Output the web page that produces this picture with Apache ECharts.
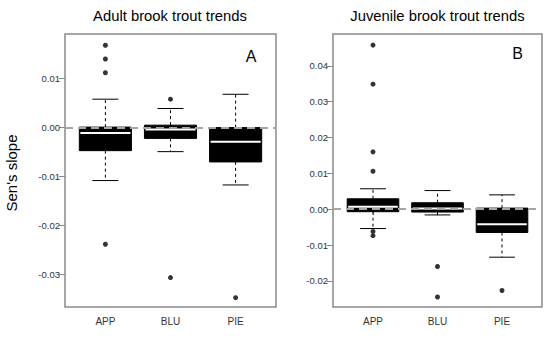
<!DOCTYPE html>
<html>
<head>
<meta charset="utf-8">
<script src="https://cdn.jsdelivr.net/npm/echarts@6/dist/echarts.min.js"></script>
<style>html,body{margin:0;padding:0;background:#fff}#c{width:550px;height:340px}</style>
</head>
<body>
<div id="c"></div>
<script>
const categories = ['APP', 'BLU', 'PIE'];
const catPos = [1, 2, 3];

// Adult brook trout trends (panel A)
const adultLow  = [-0.0108, -0.0049, -0.0117];
const adultQ1   = [-0.0047, -0.0022, -0.0070];
const adultMed  = [-0.0011, -0.0004, -0.0029];
const adultQ3   = [0.0001, 0.0005, 0.0000];
const adultHigh = [0.0058, 0.0039, 0.0068];
const adultOutAPP = [0.0168, 0.0140, 0.0112, -0.0238];
const adultOutBLU = [0.0058, -0.0306];
const adultOutPIE = [-0.0347];

// Juvenile brook trout trends (panel B)
const juvLow  = [-0.0054, -0.0016, -0.0134];
const juvQ1   = [-0.0007, -0.0008, -0.0065];
const juvMed  = [0.0007, 0.0002, -0.0042];
const juvQ3   = [0.0029, 0.0018, 0.0003];
const juvHigh = [0.0057, 0.0052, 0.0040];
const juvOutAPP = [0.0458, 0.0349, 0.0160, 0.0106, -0.0062, -0.0074];
const juvOutBLU = [-0.0160, -0.0245];
const juvOutPIE = [-0.0227];

const adultTicks = [-0.03, -0.02, -0.01, 0, 0.01];
const juvTicks = [-0.02, -0.01, 0, 0.01, 0.02, 0.03, 0.04];

function boxRows(low, q1, med, q3, high) {
  return catPos.map((p, i) => [p, low[i], q1[i], med[i], q3[i], high[i]]);
}
function outRows(lists) {
  const rows = [];
  lists.forEach((l, i) => l.forEach(v => rows.push([catPos[i], v])));
  return rows;
}

function renderBox(params, api) {
  const x = api.value(0);
  const low = api.coord([x, api.value(1)]);
  const q1 = api.coord([x, api.value(2)]);
  const med = api.coord([x, api.value(3)]);
  const q3 = api.coord([x, api.value(4)]);
  const high = api.coord([x, api.value(5)]);
  const bw = api.size([0.8, 0])[0];
  const cw = bw / 2;
  const cx = q1[0];
  const dash = {stroke: '#000', lineWidth: 1, lineDash: [3, 3]};
  const solid = {stroke: '#000', lineWidth: 1};
  return {
    type: 'group',
    children: [
      {type: 'line', shape: {x1: cx, y1: q3[1], x2: cx, y2: high[1]}, style: dash},
      {type: 'line', shape: {x1: cx, y1: q1[1], x2: cx, y2: low[1]}, style: dash},
      {type: 'line', shape: {x1: cx - cw / 2, y1: high[1], x2: cx + cw / 2, y2: high[1]}, style: solid},
      {type: 'line', shape: {x1: cx - cw / 2, y1: low[1], x2: cx + cw / 2, y2: low[1]}, style: solid},
      {type: 'rect', shape: {x: cx - bw / 2, y: q3[1], width: bw, height: q1[1] - q3[1]}, style: {fill: '#000', stroke: '#000', lineWidth: 1}},
      {type: 'line', shape: {x1: cx - bw / 2 + 1, y1: med[1], x2: cx + bw / 2 - 1, y2: med[1]}, style: {stroke: '#fff', lineWidth: 2}}
    ]
  };
}

const frameColor = '#8a8a8a';
const labelColor = '#333';

function xAxisDef(gi) {
  return {
    type: 'value', gridIndex: gi, min: 0.38, max: 3.62,
    axisLine: {show: false},
    splitLine: {show: false},
    axisTick: {show: true, customValues: catPos, length: 6, lineStyle: {color: frameColor, width: 1}},
    axisLabel: {show: true, customValues: catPos, margin: 9, color: labelColor, fontSize: 10, fontFamily: 'Liberation Sans, Arial, sans-serif',
      formatter: v => categories[Math.round(v) - 1]}
  };
}
function yAxisDef(gi, min, max, ticks) {
  return {
    type: 'value', gridIndex: gi, min: min, max: max,
    axisLine: {show: false},
    splitLine: {show: false},
    axisTick: {show: true, customValues: ticks, length: 6, lineStyle: {color: frameColor, width: 1}},
    axisLabel: {show: true, customValues: ticks, margin: 5, color: labelColor, fontSize: 9.5, fontFamily: 'Liberation Sans, Arial, sans-serif',
      formatter: v => (Math.abs(v) < 1e-9 ? 0 : v).toFixed(2)}
  };
}
function zeroLine(gi) {
  return {
    type: 'scatter', xAxisIndex: gi, yAxisIndex: gi, data: [], z: 10, silent: true,
    markLine: {silent: true, symbol: 'none', label: {show: false},
      lineStyle: {color: '#a6a6a6', width: 2, type: [8, 5]},
      data: [{yAxis: 0}]}
  };
}

const chart = echarts.init(document.getElementById('c'), null, {renderer: 'svg'});
chart.setOption({
  animation: false,
  backgroundColor: '#fff',
  grid: [
    {left: 65, top: 34, width: 211, height: 273, show: true, borderColor: frameColor, borderWidth: 1.5, backgroundColor: 'transparent'},
    {left: 333, top: 34, width: 209, height: 273, show: true, borderColor: frameColor, borderWidth: 1.5, backgroundColor: 'transparent'}
  ],
  xAxis: [xAxisDef(0), xAxisDef(1)],
  yAxis: [yAxisDef(0, -0.0366, 0.0191, adultTicks), yAxisDef(1, -0.0273, 0.0489, juvTicks)],
  graphic: [
    {type: 'text', x: 170, y: 16, style: {text: 'Adult brook trout trends', font: '14.8px "Liberation Sans", Arial, sans-serif', fill: '#000', textAlign: 'center', textVerticalAlign: 'middle'}},
    {type: 'text', x: 437.5, y: 16, style: {text: 'Juvenile brook trout trends', font: '14.8px "Liberation Sans", Arial, sans-serif', fill: '#000', textAlign: 'center', textVerticalAlign: 'middle'}},
    {type: 'text', x: 251, y: 56, style: {text: 'A', font: '16px "Liberation Sans", Arial, sans-serif', fill: '#000', textAlign: 'center', textVerticalAlign: 'middle'}},
    {type: 'text', x: 517.5, y: 53, style: {text: 'B', font: '16px "Liberation Sans", Arial, sans-serif', fill: '#000', textAlign: 'center', textVerticalAlign: 'middle'}},
    {type: 'text', x: 11, y: 173, rotation: Math.PI / 2, style: {text: "Sen's slope", font: '15px "Liberation Sans", Arial, sans-serif', fill: '#000', textAlign: 'center', textVerticalAlign: 'middle'}}
  ],
  series: [
    {type: 'custom', xAxisIndex: 0, yAxisIndex: 0, renderItem: renderBox, encode: {x: 0, y: [1, 2, 3, 4, 5]},
      data: boxRows(adultLow, adultQ1, adultMed, adultQ3, adultHigh), z: 3},
    {type: 'custom', xAxisIndex: 1, yAxisIndex: 1, renderItem: renderBox, encode: {x: 0, y: [1, 2, 3, 4, 5]},
      data: boxRows(juvLow, juvQ1, juvMed, juvQ3, juvHigh), z: 3},
    {type: 'scatter', xAxisIndex: 0, yAxisIndex: 0, symbolSize: 5, itemStyle: {color: '#000'}, z: 4,
      data: outRows([adultOutAPP, adultOutBLU, adultOutPIE])},
    {type: 'scatter', xAxisIndex: 1, yAxisIndex: 1, symbolSize: 5, itemStyle: {color: '#000'}, z: 4,
      data: outRows([juvOutAPP, juvOutBLU, juvOutPIE])},
    zeroLine(0),
    zeroLine(1)
  ]
});
</script>
</body>
</html>
